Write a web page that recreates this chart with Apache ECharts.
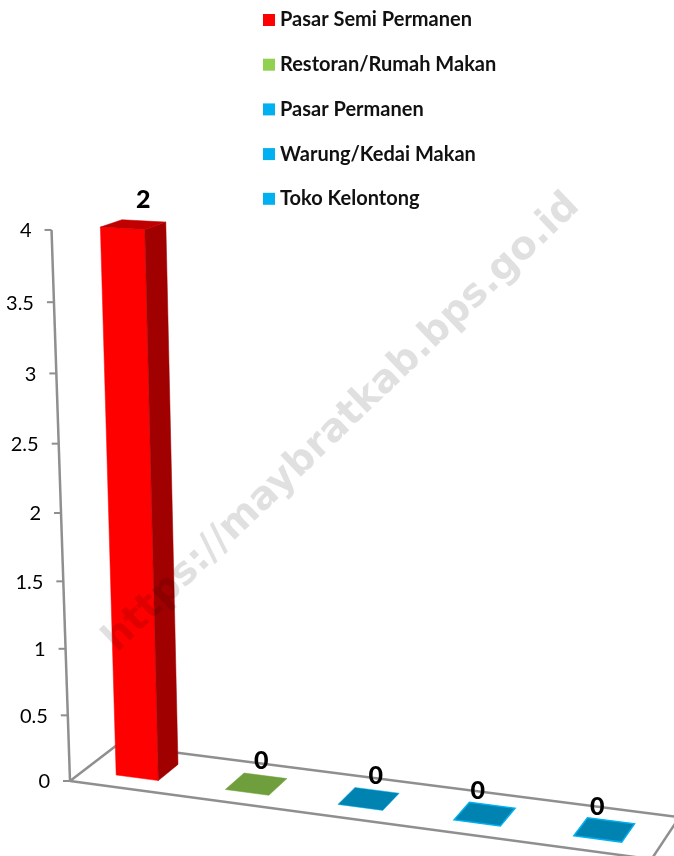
<!DOCTYPE html>
<html>
<head>
<meta charset="utf-8">
<style>
  html, body { margin: 0; padding: 0; background: #fff; }
  #chart { width: 674px; height: 856px; }
</style>
</head>
<body>
<div id="chart"></div>
<script src="https://cdn.jsdelivr.net/npm/echarts@6/dist/echarts.min.js"></script>
<script>
const seriesNames = ['Pasar Semi Permanen', 'Restoran/Rumah Makan', 'Pasar Permanen', 'Warung/Kedai Makan', 'Toko Kelontong'];
// height of each bar on the drawn axis, and the label printed above it (they differ in the source)
const plottedValues = [4, 0, 0, 0, 0];
const dataLabels = ['2', '0', '0', '0', '0'];
const axisTicks = [0, 0.5, 1, 1.5, 2, 2.5, 3, 3.5, 4];

const legendColors = ['#ff0000', '#92d050', '#00b0f0', '#00b0f0', '#00b0f0'];
const topColors = ['#c00000', '#6f9f3c', '#0083b0', '#0083b0', '#0083b0'];
const sideColors = ['#a00000', '#6f9f3c', '#0083b0', '#0083b0', '#0083b0'];
const frontColors = ['#ff0000', '#92d050', '#00b0f0', '#00b0f0', '#00b0f0'];
const edgeWidths = [0, 0, 0.5, 1.5, 1.5];
const labelNudge = [10, 5, 7, -7, -7];

const FONT = 'Lato, "Open Sans", sans-serif';
const GRID = { left: 70, top: 230, width: 580, height: 551 };
const BAR_FRAC = 0.39;
const DEPTH_FRONT = 0.28;
const DEPTH_BACK = 0.72;

// the 3D look: vanishing points of the three chart directions
const VP_CAT = [-7000, -170, -0.0152];
const VP_DEPTH = [1351, -200, 0.0381];
const VP_VAL = [400, 10627, -0.01325];

// maps a pixel of the flat grid plus a floor depth to the tilted picture
function warp(px, py, d) {
  const u = (px - GRID.left) / (GRID.width / seriesNames.length);
  const v = (GRID.top + GRID.height - py) / (GRID.height / 4);
  const a = u * VP_CAT[2], b = d * VP_DEPTH[2], c = v * VP_VAL[2];
  const w = 1 + a + b + c;
  return [
    (GRID.left + a * VP_CAT[0] + b * VP_DEPTH[0] + c * VP_VAL[0]) / w,
    (GRID.top + GRID.height + a * VP_CAT[1] + b * VP_DEPTH[1] + c * VP_VAL[1]) / w
  ];
}

const poly = (points, fill, stroke, lineWidth) => ({
  type: 'polygon',
  shape: { points },
  style: { fill, stroke: stroke || fill, lineWidth: lineWidth || 0.5 }
});
const line = (p, q, lineWidth) => ({
  type: 'line',
  shape: { x1: p[0], y1: p[1], x2: q[0], y2: q[1] },
  style: { stroke: '#8f8f8f', lineWidth }
});

function renderFrame(params, api) {
  const band = api.size([1, 0])[0];
  const l = api.coord([0, 0])[0] - band / 2;
  const r = l + band * seriesNames.length;
  const y0 = api.coord([0, 0])[1];
  const y4 = api.coord([0, 4])[1];
  return {
    type: 'group',
    children: [
      line(warp(l, y0, 0), warp(r, y0, 0), 2.5),
      line(warp(l, y0, 1), warp(r, y0, 1), 2.5),
      line(warp(l, y0, 0), warp(l, y0, 1), 2.5),
      line(warp(r, y0, 0), warp(r, y0, 1), 2.5),
      line(warp(l, y0, 0), warp(l, y4, 0), 2.5)
    ]
  };
}

function renderTick(params, api) {
  const band = api.size([1, 0])[0];
  const c = api.coord([0, api.value(0)]);
  const p = warp(c[0] - band / 2, c[1], 0);
  return {
    type: 'group',
    children: [
      line([p[0] - 7, p[1]], p, 2),
      {
        type: 'text',
        style: {
          x: p[0] - 20, y: p[1] + 1,
          text: String(api.value(0)),
          align: 'right', verticalAlign: 'middle',
          font: '20px ' + FONT, fill: '#000'
        }
      }
    ]
  };
}

function renderBar(params, api) {
  const i = api.value(0);
  const val = api.value(1);
  const s = params.seriesIndex - 2;
  const c = api.coord([i, val]);
  const base = api.coord([i, 0]);
  const half = api.size([1, 0])[0] * BAR_FRAC / 2;
  const x1 = c[0] - half, x2 = c[0] + half;

  const ftl = warp(x1, c[1], DEPTH_FRONT), ftr = warp(x2, c[1], DEPTH_FRONT);
  const btl = warp(x1, c[1], DEPTH_BACK), btr = warp(x2, c[1], DEPTH_BACK);
  const fbl = warp(x1, base[1], DEPTH_FRONT), fbr = warp(x2, base[1], DEPTH_FRONT);
  const bbr = warp(x2, base[1], DEPTH_BACK);
  const mid = warp(c[0], c[1], (DEPTH_FRONT + DEPTH_BACK) / 2);

  const children = [];
  if (val > 0) {
    children.push(poly([ftl, ftr, fbr, fbl], frontColors[s]));
    children.push(poly([ftr, btr, bbr, fbr], sideColors[s]));
  }
  children.push(poly([ftl, ftr, btr, btl], topColors[s], edgeWidths[s] ? frontColors[s] : topColors[s], edgeWidths[s] || 0.5));
  children.push({
    type: 'text',
    z2: 5,
    style: {
      x: mid[0] + labelNudge[s],
      y: mid[1] - (val > 0 ? 25 : 23),
      text: dataLabels[s],
      align: 'center', verticalAlign: 'middle',
      font: '900 25px ' + FONT, fill: '#000'
    }
  });
  return { type: 'group', children };
}

const chart = echarts.init(document.getElementById('chart'), null, { renderer: 'canvas' });

chart.setOption({
  animation: false,
  backgroundColor: '#fff',
  legend: {
    orient: 'vertical',
    left: 258,
    top: 5,
    itemWidth: 12,
    itemHeight: 12,
    itemGap: 24.7,
    icon: 'rect',
    selectedMode: false,
    textStyle: { fontFamily: FONT, fontWeight: 'bold', fontSize: 20, color: '#111' },
    data: seriesNames.map((name, i) => ({ name, itemStyle: { color: legendColors[i] } }))
  },
  grid: { left: GRID.left, top: GRID.top, width: GRID.width, height: GRID.height },
  xAxis: { type: 'category', data: seriesNames, show: false },
  yAxis: { type: 'value', min: 0, max: 4, interval: 0.5, show: false },
  graphic: [{
    type: 'text',
    rotation: 0.765,
    x: 342, y: 423,
    z: 50,
    silent: true,
    style: {
      text: 'https://maybratkab.bps.go.id',
      align: 'center', verticalAlign: 'middle',
      font: 'bold 39px "DejaVu Sans", sans-serif',
      fill: 'rgba(0,0,0,0.12)'
    }
  }],
  series: [
    { type: 'custom', name: 'frame', renderItem: renderFrame, data: [[0]], silent: true, z: 1, clip: false, encode: { x: -1, y: -1 } },
    { type: 'custom', name: 'ticks', renderItem: renderTick, data: axisTicks.map(t => [t]), silent: true, z: 1, clip: false, encode: { x: -1, y: 0 } }
  ].concat(seriesNames.map((name, i) => ({
    type: 'custom',
    name,
    renderItem: renderBar,
    itemStyle: { color: legendColors[i] },
    data: [[i, plottedValues[i]]],
    encode: { x: 0, y: 1 },
    z: 2,
    clip: false
  })))
});
</script>
</body>
</html>
